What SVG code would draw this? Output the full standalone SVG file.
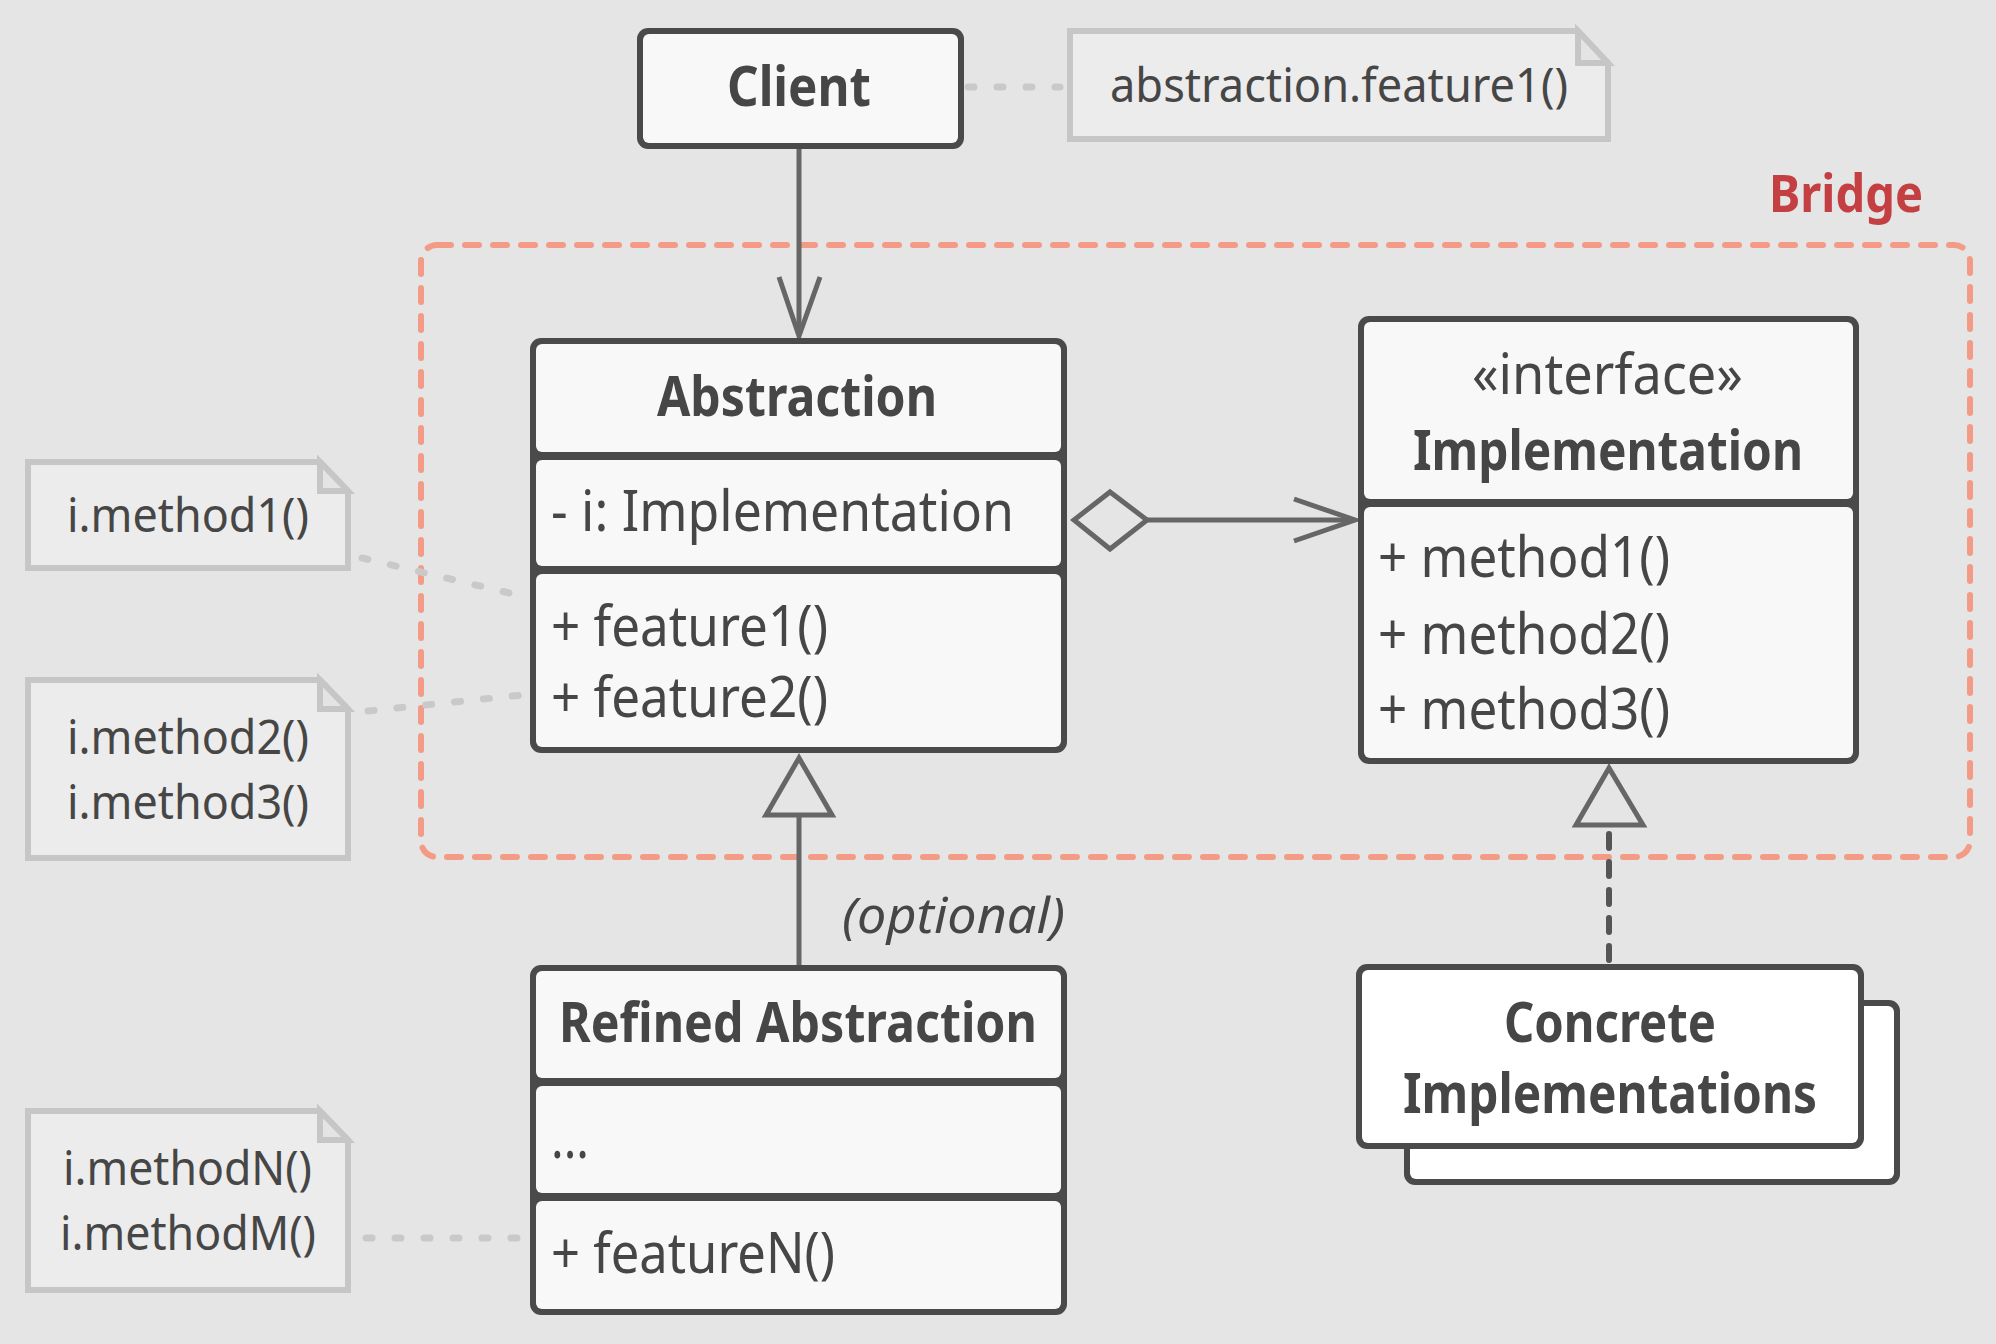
<svg xmlns="http://www.w3.org/2000/svg" width="1996" height="1344" viewBox="0 0 1996 1344">
<defs>
<style>
.t{font-family:"Noto Sans","Open Sans","DejaVu Sans",sans-serif;fill:#464646;}
.b{font-weight:bold;}
.m{font-size:56px;}
.h{font-size:56px;font-weight:bold;}
.n{font-size:48px;}
.frame{fill:#4a4a4a;}
.comp{fill:#f8f8f8;}
.white{fill:#ffffff;}
.note{fill:#ececec;stroke:#c6c6c6;stroke-width:6;stroke-linejoin:miter;}
.fold{fill:#e4e4e4;stroke:#c6c6c6;stroke-width:6;stroke-linejoin:miter;}
.dot{fill:none;stroke:#c9c9c9;stroke-width:7;stroke-linecap:round;stroke-dasharray:6 23;}
.line{fill:none;stroke:#666666;stroke-width:5;}
.hollow{fill:#e5e5e5;stroke:#666666;stroke-width:5;stroke-linejoin:miter;}
</style>
</defs>
<rect x="0" y="0" width="1996" height="1344" fill="#e5e5e5"/>

<g id="bridge">
<rect x="421" y="245" width="1549" height="612" rx="16" fill="none" stroke="#f39b86" stroke-width="6" stroke-linecap="round" stroke-dasharray="14 14"/>
<text x="1769" y="212" textLength="154" lengthAdjust="spacingAndGlyphs" class="t b" style="font-size:52px;fill:#c43f42;">Bridge</text>
</g>

<g id="connectors">
<line class="dot" x1="968" y1="87" x2="1060" y2="87"/>
<line class="dot" x1="362" y1="558" x2="522" y2="596"/>
<line class="dot" x1="368" y1="711" x2="522" y2="695"/>
<line class="dot" x1="366" y1="1238" x2="520" y2="1238"/>
<line class="line" x1="799" y1="149" x2="799" y2="334"/>
<polyline class="line" points="779,277 799,336 820,277"/>
<line class="line" x1="1147" y1="520" x2="1354" y2="520"/>
<polygon class="hollow" points="1074,520 1110,492 1147,520 1110,549"/>
<polyline class="line" points="1294,499 1355,520 1294,541"/>
<line class="line" x1="799" y1="815" x2="799" y2="966"/>
<polygon class="hollow" points="799,758 766,815 832,815"/>
<line x1="1609" y1="834" x2="1609" y2="960" stroke="#555555" stroke-width="6" stroke-linecap="round" stroke-dasharray="14 14"/>
<polygon class="hollow" points="1609,768 1576,825 1643,825"/>
</g>

<g id="client">
<rect class="frame" x="637" y="28" width="327" height="121" rx="11"/>
<rect class="comp" x="643" y="34" width="315" height="109" rx="6"/>
<text x="727" y="106" textLength="144" lengthAdjust="spacingAndGlyphs" class="t h">Client</text>
</g>

<g id="note-client">
<path class="note" d="M1070,31 H1578 L1608,63 V139 H1070 Z"/>
<path class="fold" d="M1578,31 V63 H1608 Z"/>
<text x="1110" y="102" textLength="458" lengthAdjust="spacingAndGlyphs" class="t n">abstraction.feature1()</text>
</g>

<g id="abstraction">
<rect class="frame" x="530" y="338" width="537" height="415" rx="11"/>
<rect class="comp" x="536" y="344" width="525" height="108" rx="6"/>
<rect class="comp" x="536" y="460" width="525" height="106" rx="6"/>
<rect class="comp" x="536" y="574" width="525" height="173" rx="6"/>
<text x="657" y="416" textLength="280" lengthAdjust="spacingAndGlyphs" class="t h">Abstraction</text>
<text x="551" y="531" textLength="463" lengthAdjust="spacingAndGlyphs" class="t m">- i: Implementation</text>
<text x="551" y="646" textLength="277" lengthAdjust="spacingAndGlyphs" class="t m">+ feature1()</text>
<text x="551" y="717" textLength="277" lengthAdjust="spacingAndGlyphs" class="t m">+ feature2()</text>
</g>

<g id="implementation">
<rect class="frame" x="1358" y="316" width="501" height="448" rx="11"/>
<rect class="comp" x="1364" y="322" width="489" height="177" rx="6"/>
<rect class="comp" x="1364" y="507" width="489" height="251" rx="6"/>
<text x="1472" y="394" textLength="271" lengthAdjust="spacingAndGlyphs" class="t m">«interface»</text>
<text x="1413" y="470" textLength="390" lengthAdjust="spacingAndGlyphs" class="t h">Implementation</text>
<text x="1378" y="577" textLength="292" lengthAdjust="spacingAndGlyphs" class="t m">+ method1()</text>
<text x="1378" y="654" textLength="292" lengthAdjust="spacingAndGlyphs" class="t m">+ method2()</text>
<text x="1378" y="729" textLength="292" lengthAdjust="spacingAndGlyphs" class="t m">+ method3()</text>
</g>

<g id="note-1">
<path class="note" d="M28,462 H320 L348,491 V568 H28 Z"/>
<path class="fold" d="M320,462 V491 H348 Z"/>
<text x="67" y="532" textLength="242" lengthAdjust="spacingAndGlyphs" class="t n">i.method1()</text>
</g>

<g id="note-2">
<path class="note" d="M28,680 H320 L348,709 V858 H28 Z"/>
<path class="fold" d="M320,680 V709 H348 Z"/>
<text x="67" y="754" textLength="242" lengthAdjust="spacingAndGlyphs" class="t n">i.method2()</text>
<text x="67" y="819" textLength="242" lengthAdjust="spacingAndGlyphs" class="t n">i.method3()</text>
</g>

<g id="refined-abstraction">
<rect class="frame" x="530" y="965" width="537" height="350" rx="11"/>
<rect class="comp" x="536" y="971" width="525" height="107" rx="6"/>
<rect class="comp" x="536" y="1086" width="525" height="107" rx="6"/>
<rect class="comp" x="536" y="1201" width="525" height="108" rx="6"/>
<text x="559" y="1042" textLength="478" lengthAdjust="spacingAndGlyphs" class="t h">Refined Abstraction</text>
<text x="551" y="1158" textLength="38" lengthAdjust="spacingAndGlyphs" class="t m">...</text>
<text x="551" y="1273" textLength="284" lengthAdjust="spacingAndGlyphs" class="t m">+ featureN()</text>
</g>

<text x="842" y="933" textLength="223" lengthAdjust="spacingAndGlyphs" class="t" style="font-size:50px;font-style:italic;">(optional)</text>

<g id="note-3">
<path class="note" d="M28,1111 H320 L348,1140 V1290 H28 Z"/>
<path class="fold" d="M320,1111 V1140 H348 Z"/>
<text x="63" y="1185" textLength="249" lengthAdjust="spacingAndGlyphs" class="t n">i.methodN()</text>
<text x="60" y="1250" textLength="256" lengthAdjust="spacingAndGlyphs" class="t n">i.methodM()</text>
</g>

<g id="concrete-implementations">
<rect class="frame" x="1404" y="1000" width="496" height="185" rx="11"/>
<rect class="white" x="1410" y="1006" width="484" height="173" rx="6"/>
<rect class="frame" x="1356" y="964" width="508" height="185" rx="11"/>
<rect class="white" x="1362" y="970" width="496" height="173" rx="6"/>
<text x="1504" y="1042" textLength="212" lengthAdjust="spacingAndGlyphs" class="t h">Concrete</text>
<text x="1403" y="1113" textLength="414" lengthAdjust="spacingAndGlyphs" class="t h">Implementations</text>
</g>
</svg>
